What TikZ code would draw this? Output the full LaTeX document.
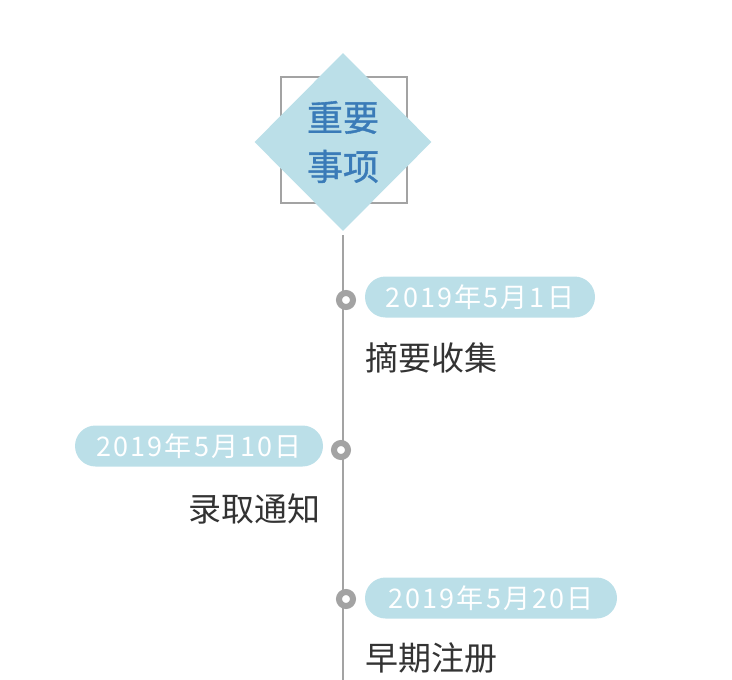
\documentclass[tikz,border=0pt]{standalone}
\usepackage{fontspec}
\setmainfont{Noto Sans CJK SC}
\newfontfamily\datefont[LetterSpace=8]{Noto Sans CJK SC}
\newfontfamily\titlefont[FakeBold=1]{Noto Sans CJK SC}
\usetikzlibrary{shapes.geometric}
\definecolor{pillblue}{HTML}{BBDFE8}
\definecolor{titleblue}{HTML}{3A7BB8}
\definecolor{linegray}{HTML}{A3A3A3}
\definecolor{bodytext}{HTML}{333333}
\tikzset{
  pill/.style={fill=pillblue, rounded corners=20.5pt, minimum height=41pt, inner sep=0pt, text=white, font=\datefont\fontsize{27}{30}\selectfont},
  dot/.style={circle, draw=linegray, line width=6pt, fill=white, minimum size=14pt, inner sep=0pt},
  body/.style={text=bodytext, inner sep=0pt, font=\fontsize{33}{36}\selectfont},
}
\begin{document}
\begin{tikzpicture}[x=1pt,y=-1pt]
\useasboundingbox (0,0) rectangle (732,680);
\node[draw=linegray, line width=1.5pt, minimum size=126pt, inner sep=0pt] (sq) at (344,140) {};
\node[diamond, fill=pillblue, minimum width=177pt, minimum height=178pt, inner sep=0pt, text=titleblue, align=center, font=\titlefont\fontsize{36}{49}\selectfont] (d) at (343,142) {重要\\事项};
\coordinate (top) at (343,235);
\coordinate (bot) at (343,680);
\draw[linegray, line width=2pt] (top) -- (bot);
\node[dot] (c1) at (346,300) {};
\node[dot] (c2) at (341,450) {};
\node[dot] (c3) at (346,599) {};
\node[pill, minimum width=230pt] (p1) at (480,297) {2019年5月1日};
\node[pill, minimum width=248pt] (p2) at (199,446) {2019年5月10日};
\node[pill, minimum width=252pt] (p3) at (491,598) {2019年5月20日};
\node[body, anchor=west] (t1) at (365,358) {摘要收集};
\node[body, anchor=east] (t2) at (321,509) {录取通知};
\node[body, anchor=west] (t3) at (365,658) {早期注册};
\end{tikzpicture}
\end{document}
